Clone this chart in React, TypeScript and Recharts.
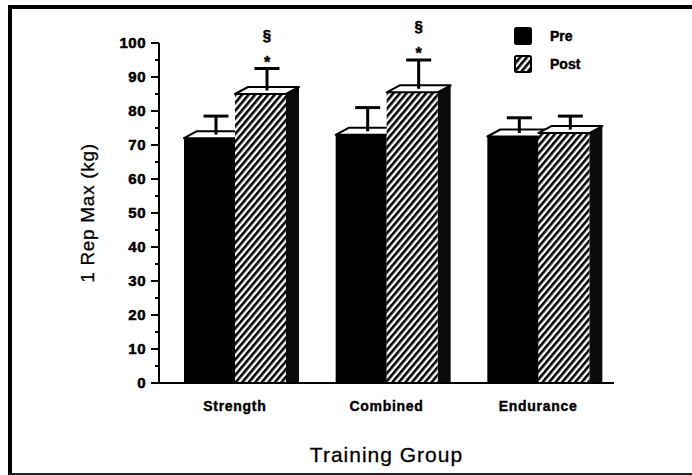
import React from 'react';
import { BarChart, Bar, XAxis, YAxis, Legend } from 'recharts';

const groups = ['Strength', 'Combined', 'Endurance'];
const seriesNames = ['Pre', 'Post'];
const preValues = [72, 73, 72.5];
const postValues = [85, 85.5, 73.5];
const preErrors = [6.5, 8, 5.5];
const postErrors = [7.5, 9.5, 5];
const postSigUpper = ['§', '§', ''];
const postSigLower = ['*', '*', ''];
const yTicks = [0, 5, 10, 15, 20, 25, 30, 35, 40, 45, 50, 55, 60, 65, 70, 75, 80, 85, 90, 95, 100];

const data = groups.map((g, i) => ({
  group: g,
  pre: preValues[i],
  post: postValues[i],
  preErr: preErrors[i],
  postErr: postErrors[i],
  sigU: postSigUpper[i],
  sigL: postSigLower[i],
}));

const DX = 13;
const DY = 7;
const FONT = '"Liberation Sans", Arial, Helvetica, sans-serif';

const makeShape = (valKey: string, errKey: string, withSig: boolean) => (props: any) => {
  const { x, y, width: w, height: h, fill, payload } = props;
  const v = payload[valKey];
  const e = payload[errKey];
  const k = v ? h / v : 0;
  const capY = y - e * k;
  const ex = x + w / 2 + DX / 2;
  const base = y + h;
  return (
    <g>
      <polygon
        points={`${x + w},${y} ${x + w + DX},${y - DY} ${x + w + DX},${base} ${x + w},${base}`}
        fill="#0b0b0b"
      />
      <rect x={x} y={y} width={w} height={h} fill={fill} />
      <polygon
        points={`${x},${y} ${x + DX},${y - DY} ${x + w + DX},${y - DY} ${x + w},${y}`}
        fill="#fff"
        stroke="#000"
        strokeWidth={2}
        strokeLinejoin="round"
      />
      <line x1={ex} x2={ex} y1={capY} y2={y - DY / 2} stroke="#000" strokeWidth={3} />
      <line x1={ex - 12.5} x2={ex + 12.5} y1={capY} y2={capY} stroke="#000" strokeWidth={3} />
      {withSig && payload.sigL ? (
        <text x={ex} y={capY - 1} textAnchor="middle" fontSize={16} fontWeight={700} fontFamily={FONT} fill="#000" stroke="#000" strokeWidth={0.4}>
          {payload.sigL}
        </text>
      ) : null}
      {withSig && payload.sigU ? (
        <text x={ex} y={capY - 29} textAnchor="middle" fontSize={15} fontWeight={700} fontFamily={FONT} fill="#000" stroke="#000" strokeWidth={0.5}>
          {payload.sigU}
        </text>
      ) : null}
    </g>
  );
};

const preShape = makeShape('pre', 'preErr', false);
const postShape = makeShape('post', 'postErr', true);

const YTick = (props: any) => {
  const { x, y, payload } = props;
  const v = payload.value;
  const major = v % 10 === 0;
  const axisX = x + 8 + 5;
  return (
    <g>
      <line x1={axisX - (major ? 8 : 4)} x2={axisX} y1={y} y2={y} stroke="#000" strokeWidth={2} />
      {major ? (
        <text
          x={x}
          y={y}
          dy="0.36em"
          textAnchor="end"
          fontSize={15}
          fontWeight={700}
          fontFamily={FONT}
          letterSpacing={0.5}
          fill="#000"
          stroke="#000"
          strokeWidth={0.5}
        >
          {v}
        </text>
      ) : null}
    </g>
  );
};

const renderLegend = (props: any) => {
  const payload = [...(props.payload || [])].sort(
    (a: any, b: any) => seriesNames.indexOf(a.value) - seriesNames.indexOf(b.value)
  );
  return (
    <svg width={90} height={50} style={{ display: 'block', overflow: 'visible' }}>
      {payload.map((p: any, i: number) => (
        <g key={i} transform={`translate(0, ${i * 28})`}>
          <rect x={1} y={1} width={16} height={16} fill={p.color} stroke="#000" strokeWidth={2} rx={1.5} />
          <text
            x={36}
            y={9}
            dy="0.36em"
            fontSize={14}
            fontWeight={700}
            fontFamily={FONT}
            fill="#000"
            stroke="#000"
            strokeWidth={0.4}
          >
            {p.value}
          </text>
        </g>
      ))}
    </svg>
  );
};

export default function App() {
  return (
    <div
      style={{
        position: 'absolute',
        left: 0,
        top: 0,
        width: 692,
        height: 475,
        background: '#fff',
        overflow: 'hidden',
      }}
    >
      <svg width={0} height={0} style={{ position: 'absolute' }}>
        <defs>
          <pattern
            id="hatch"
            patternUnits="userSpaceOnUse"
            width={5}
            height={10}
            patternTransform="rotate(40)"
          >
            <rect width={5} height={10} fill="#fff" />
            <rect width={2.6} height={10} fill="#000" />
          </pattern>
        </defs>
      </svg>
      <div
        style={{
          position: 'absolute',
          left: 8,
          top: 5,
          width: 684,
          height: 470,
          boxSizing: 'border-box',
          borderLeft: '4px solid #000',
          borderTop: '4px solid #000',
          borderBottom: '2px solid #222',
          borderRight: 'none',
        }}
      />
      <div style={{ position: 'absolute', left: 0, top: 0 }}>
        <BarChart
          width={692}
          height={475}
          data={data}
          margin={{ top: 43, right: 78, bottom: 0, left: 0 }}
          barGap={0}
          barSize={51}
        >
          <XAxis
            dataKey="group"
            height={92}
            axisLine={{ stroke: '#000', strokeWidth: 2 }}
            tickLine={false}
            tickSize={0}
            tickMargin={18}
            tick={{ fill: '#000', stroke: '#000', strokeWidth: 0.4, fontSize: 14, fontWeight: 700, fontFamily: FONT, letterSpacing: 0.7 }}
            label={{
              value: 'Training Group',
              position: 'insideBottom',
              offset: 13,
              fill: '#000',
              stroke: '#000',
              strokeWidth: 0.3,
              fontSize: 21,
              fontFamily: FONT,
              letterSpacing: 1,
            }}
          />
          <YAxis
            width={159}
            domain={[0, 100]}
            ticks={yTicks}
            interval={0}
            tickLine={false}
            tickSize={8}
            tickMargin={5}
            tick={<YTick />}
            axisLine={{ stroke: '#000', strokeWidth: 2 }}
            label={{
              value: '1 Rep Max (kg)',
              angle: -90,
              position: 'center',
              dx: 7.5,
              fill: '#000',
              stroke: '#000',
              strokeWidth: 0.3,
              fontSize: 19,
              fontFamily: FONT,
              letterSpacing: 0.7,
            }}
          />
          <Legend
            layout="vertical"
            align="center"
            verticalAlign="middle"
            content={renderLegend}
            wrapperStyle={{ position: 'absolute', left: 514, top: 27, width: 90, height: 50 }}
          />
          <Bar dataKey="pre" name="Pre" fill="#000" shape={preShape} isAnimationActive={false} />
          <Bar dataKey="post" name="Post" fill="url(#hatch)" shape={postShape} isAnimationActive={false} />
        </BarChart>
      </div>
    </div>
  );
}
